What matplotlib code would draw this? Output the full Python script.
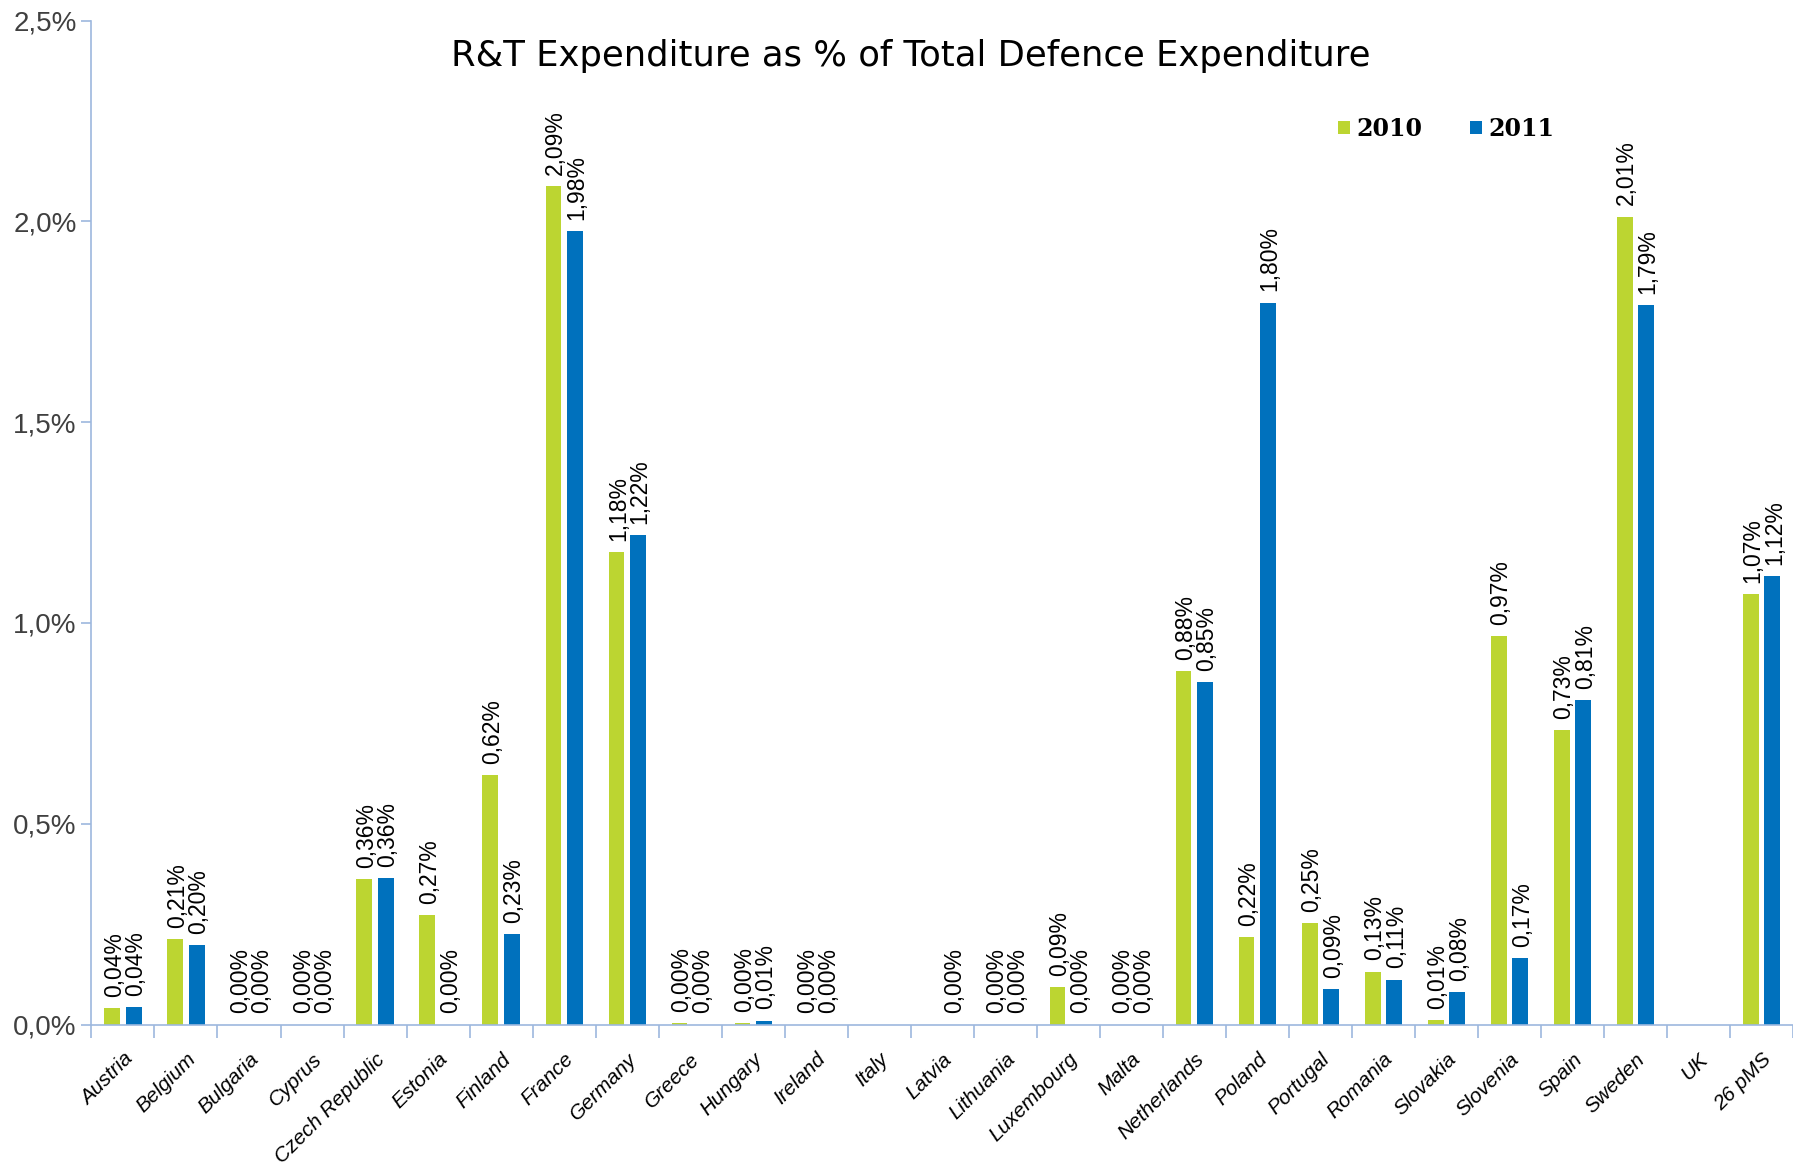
import numpy as np
import matplotlib
matplotlib.use("Agg")
from matplotlib import pyplot as plt
from matplotlib.ticker import FuncFormatter, MultipleLocator

countries = ['Austria', 'Belgium', 'Bulgaria', 'Cyprus', 'Czech Republic', 'Estonia',
             'Finland', 'France', 'Germany', 'Greece', 'Hungary', 'Ireland', 'Italy',
             'Latvia', 'Lithuania', 'Luxembourg', 'Malta', 'Netherlands', 'Poland',
             'Portugal', 'Romania', 'Slovakia', 'Slovenia', 'Spain', 'Sweden', 'UK',
             '26 pMS']
years = ['2010', '2011']
rt_2010 = [0.040, 0.213, 0.0, 0.0, 0.362, 0.272, 0.622, 2.088, 1.176, 0.004, 0.004, 0.0, 0.0,
           0.0, 0.0, 0.094, 0.0, 0.880, 0.218, 0.252, 0.132, 0.012, 0.968, 0.733, 2.012, 0.0,
           1.072]
rt_2011 = [0.044, 0.198, 0.0, 0.0, 0.364, 0.0, 0.226, 1.977, 1.218, 0.0, 0.010, 0.0, 0.0,
           0.0, 0.0, 0.0, 0.0, 0.852, 1.798, 0.088, 0.112, 0.080, 0.166, 0.808, 1.792, 0.0,
           1.116]
# countries that carry no value label in the original
no_label_2010 = ['Italy', 'Latvia', 'UK']
no_label_2011 = ['Italy', 'UK']

green = '#BCD531'
blue = '#0071BD'
axis_col = '#9DB8DE'

plt.figure(figsize=(17.93, 11.64), dpi=100)
ax = plt.axes([0.051, 0.1198, 0.949, 0.8625])

x = np.arange(len(countries))
w = 0.25
off = 0.17
b1 = ax.bar(x - off, rt_2010, w, color=green, label=years[0])
b2 = ax.bar(x + off, rt_2011, w, color=blue, label=years[1])

def pct(v):
    return '{0:.2f}%'.format(v).replace('.', ',')

for bars, vals, skip in [(b1, rt_2010, no_label_2010), (b2, rt_2011, no_label_2011)]:
    for i, (r, v) in enumerate(zip(bars, vals)):
        if countries[i] in skip:
            continue
        ax.annotate(pct(v), (r.get_x() + r.get_width() / 2, v), xytext=(1.5, 8),
                    textcoords='offset points', rotation=90, ha='center', va='bottom',
                    fontsize=16.5, family=['Liberation Sans', 'DejaVu Sans'])

ax.set_xlim(-0.5, len(countries) - 0.5)
ax.set_ylim(0, 2.5)
ax.yaxis.set_major_locator(MultipleLocator(0.5))
ax.yaxis.set_major_formatter(FuncFormatter(lambda v, p: '{0:.1f}%'.format(v).replace('.', ',')))
for t in ax.get_yticklabels():
    t.set_family(['Liberation Sans Narrow', 'Liberation Sans', 'DejaVu Sans'])
ax.tick_params(axis='y', labelsize=20, labelcolor='#404040', color=axis_col, length=7, width=1.2)

ax.set_xticks(x)
ax.set_xticklabels(countries, rotation=45, ha='right', rotation_mode='anchor',
                   fontsize=15, style='italic', family=['Liberation Sans', 'DejaVu Sans'])
ax.tick_params(axis='x', length=0, pad=18)
ax.set_xticks(np.arange(len(countries) + 1) - 0.5, minor=True)
ax.tick_params(axis='x', which='minor', length=9, color=axis_col, width=1.2)

for s in ['top', 'right']:
    ax.spines[s].set_visible(False)
for s in ['left', 'bottom']:
    ax.spines[s].set_color(axis_col)
    ax.spines[s].set_linewidth(1.2)

plt.figtext(0.508, 0.952, 'R&T Expenditure as % of Total Defence Expenditure',
            ha='center', va='center', fontsize=25.5, family=['DejaVu Sans'])

ax.legend(loc='upper left', bbox_to_anchor=(0.72, 0.925), ncol=2, frameon=False,
          handlelength=0.5, handleheight=0.5, handletextpad=0.3, columnspacing=2.0,
          prop={'family': ['DejaVu Serif'], 'size': 17, 'weight': 'bold'})

plt.savefig('out.png', dpi=100)
